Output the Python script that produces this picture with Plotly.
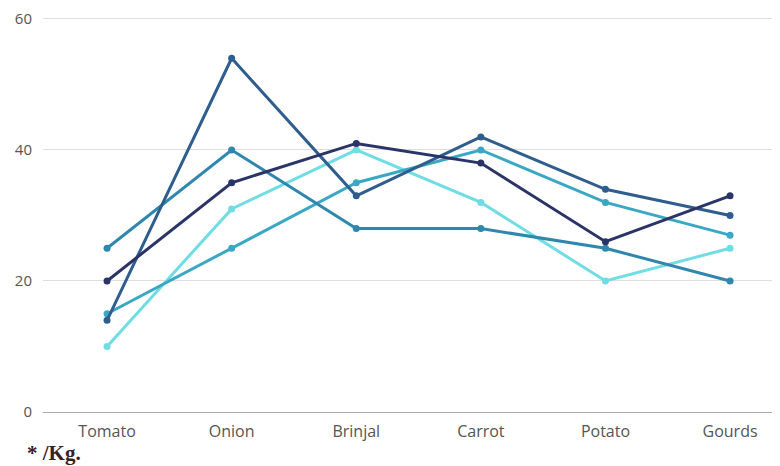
import plotly.graph_objects as go

categories = ["Tomato", "Onion", "Brinjal", "Carrot", "Potato", "Gourds"]
series_a = [20, 35, 41, 38, 26, 33]
series_b = [14, 54, 33, 42, 34, 30]
series_c = [25, 40, 28, 28, 25, 20]
series_d = [15, 25, 35, 40, 32, 27]
series_e = [10, 31, 40, 32, 20, 25]
series_names = ["Series A", "Series B", "Series C", "Series D", "Series E"]
colors = ["#2b3467", "#2f5e8e", "#2f87ad", "#3aa8c5", "#6fdde3"]

fig = go.Figure()
all_series = [series_a, series_b, series_c, series_d, series_e]
order = [4, 3, 2, 1, 0]
for i in order:
    fig.add_trace(go.Scatter(
        x=categories, y=all_series[i], name=series_names[i],
        mode="lines+markers",
        line=dict(color=colors[i], width=3),
        marker=dict(color=colors[i], size=7),
    ))

fig.update_layout(
    width=780, height=466,
    margin=dict(l=35, r=0, t=9, b=62),
    paper_bgcolor="white", plot_bgcolor="white",
    showlegend=False,
    font=dict(family="Open Sans, sans-serif", size=15, color="#555"),
)
fig.update_xaxes(
    type="category", range=[-0.514, 5.465],
    showgrid=False, showline=False, zeroline=False,
    ticks="", ticklabelstandoff=8,
    tickfont=dict(family="Open Sans, sans-serif", size=16, color="#555"),
)
fig.update_yaxes(
    range=[0, 60.3], tickvals=[0, 20, 40, 60],
    showgrid=True, gridcolor="#dddddd", gridwidth=1,
    zeroline=True, zerolinecolor="#aaaaaa", zerolinewidth=1,
    showline=False, ticks="", ticklabelstandoff=10,
    ticklabeloverflow="allow",
    tickfont=dict(family="Open Sans, sans-serif", size=15, color="#555"),
)
fig.add_annotation(
    text="<b>* /Kg.</b>", xref="paper", yref="paper",
    x=-0.024, y=-0.103, xanchor="left", yanchor="middle",
    showarrow=False,
    font=dict(family="Liberation Serif, Times New Roman, serif", size=21, color="#3a2020"),
)

fig.write_html("out.html")
